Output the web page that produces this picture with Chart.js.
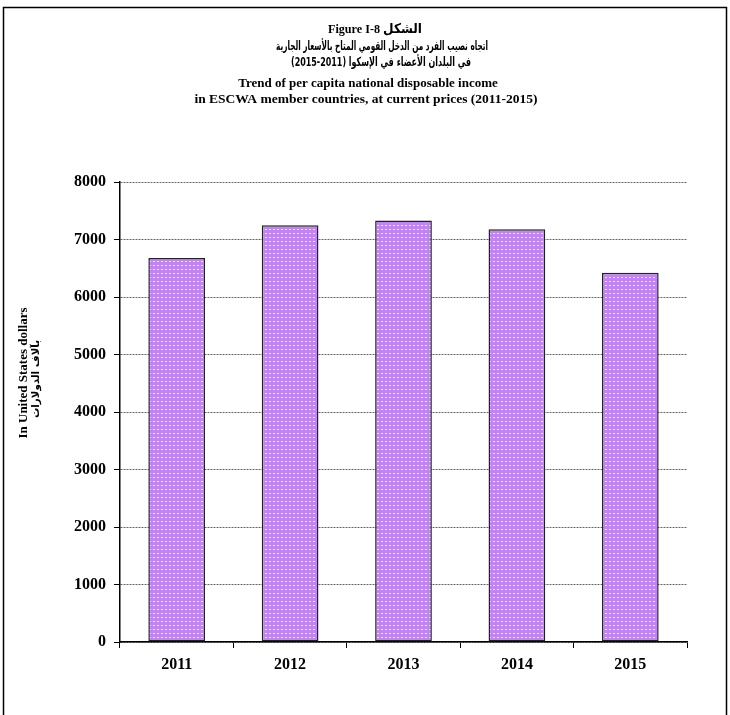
<!DOCTYPE html>
<html>
<head>
<meta charset="utf-8">
<script src="https://cdn.jsdelivr.net/npm/chart.js@4"></script>
<style>
  html, body { margin: 0; padding: 0; background: #fff; }
  #wrap { width: 730px; height: 715px; }
</style>
</head>
<body>
<div id="wrap"><canvas id="barChart" width="730" height="715"></canvas></div>
<script>
const years = ['2011', '2012', '2013', '2014', '2015'];
const incomeValues = [6680, 7250, 7330, 7180, 6420];
const yTicks = [0, 1000, 2000, 3000, 4000, 5000, 6000, 7000, 8000];

const titleLines = [
  { text: 'Figure I-8 الشكل', font: 'bold 13.5px "Liberation Serif", "DejaVu Sans"', x: 375, y: 30, w: 94 },
  { text: 'اتجاه نصيب الفرد من الدخل القومي المتاح بالأسعار الجارية', font: 'bold 12.5px "DejaVu Sans"', x: 382, y: 47, w: 212 },
  { text: '(2015-2011) في البلدان الأعضاء في الإسكوا', font: 'bold 12.5px "DejaVu Sans"', x: 381, y: 63, w: 180 },
  { text: 'Trend of per capita national disposable income', font: 'bold 13px "Liberation Serif"', x: 368, y: 84 },
  { text: 'in ESCWA member countries, at current prices (2011-2015)', font: 'bold 13.5px "Liberation Serif"', x: 366, y: 100 }
];

// dotted purple fill like the original
function makePattern() {
  const p = document.createElement('canvas');
  p.width = 4; p.height = 4;
  const c = p.getContext('2d');
  c.fillStyle = '#c084f3';
  c.fillRect(0, 0, 4, 4);
  c.fillStyle = '#f1e4ff';
  c.fillRect(1, 1, 2, 1);
  return c.createPattern(p, 'repeat');
}

const framePlugin = {
  id: 'frame',
  beforeDraw(chart) {
    const ctx = chart.ctx;
    ctx.save();
    ctx.strokeStyle = '#000';
    ctx.lineWidth = 1.5;
    ctx.strokeRect(3.5, 7.5, 723, 720);
    ctx.fillStyle = '#000';
    ctx.textAlign = 'center';
    ctx.textBaseline = 'middle';
    titleLines.forEach(l => {
      ctx.font = l.font;
      if (l.w) ctx.fillText(l.text, l.x, l.y, l.w);
      else ctx.fillText(l.text, l.x, l.y);
    });
    // y axis title, two rotated lines
    ctx.translate(24, 373);
    ctx.rotate(-Math.PI / 2);
    ctx.font = 'bold 13px "Liberation Serif"';
    ctx.fillText('In United States dollars', 0, 0);
    ctx.font = 'bold 10.5px "DejaVu Sans"';
    ctx.fillText('بآلاف الدولارات', -6, 12, 78);
    ctx.restore();
  }
};

document.addEventListener('DOMContentLoaded', () => {
  const canvas = document.getElementById('barChart');
  const ctx = canvas.getContext('2d');
  new Chart(ctx, {
    type: 'bar',
    data: {
      labels: years,
      datasets: [{
        data: incomeValues,
        backgroundColor: makePattern(),
        borderColor: '#222',
        borderWidth: 1.5,
        borderSkipped: false,
        barPercentage: 0.5,
        categoryPercentage: 1
      }]
    },
    options: {
      responsive: false,
      animation: false,
      layout: { padding: { top: 182, right: 43, bottom: 0, left: 0 } },
      plugins: { legend: { display: false }, tooltip: { enabled: false } },
      scales: {
        x: {
          afterFit(s) { s.height = 73; },
          grid: { offset: true, drawOnChartArea: false, tickLength: 6, tickColor: '#000' },
          border: { color: '#000', width: 1.5 },
          ticks: { color: '#000', padding: 7, font: { family: 'Liberation Serif', size: 16, weight: 'bold' } }
        },
        y: {
          min: 0,
          max: 8000,
          afterFit(s) { s.width = 120; },
          afterBuildTicks(s) { s.ticks = yTicks.map(v => ({ value: v })); },
          grid: { color: '#666', lineWidth: 1, tickLength: 6, tickColor: '#000', tickBorderDash: [] },
          border: { color: '#000', width: 1.5, dash: [2, 1] },
          ticks: {
            color: '#000',
            padding: 8,
            font: { family: 'Liberation Serif', size: 16, weight: 'bold' },
            callback: v => String(v)
          }
        }
      }
    },
    plugins: [framePlugin]
  });
});
</script>
</body>
</html>
